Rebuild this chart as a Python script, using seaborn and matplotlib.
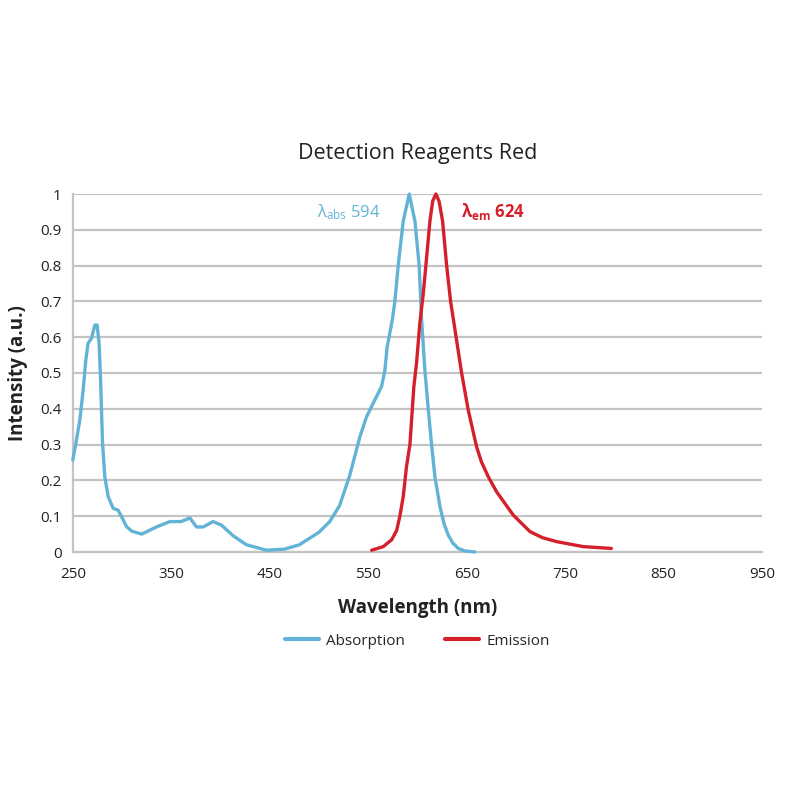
import pandas as pd
import seaborn as sns
import matplotlib.pyplot as plt

# absorption spectrum
abs_nm = [250, 253.7, 257.1, 260.5, 263.2, 265.5, 269, 272.4, 274.7, 276.7, 278.1,
          280.2, 282.5, 285.9, 291, 296, 299.5, 304.5, 310, 320, 335, 348.5, 360,
          369, 375.6, 382.4, 392.5, 401, 413, 426.5, 446.8, 465, 480, 500, 511,
          521, 531.4, 541.6, 548.4, 556.8, 563.6, 567, 569.3, 574.5, 577.1,
          580.5, 585.6, 591.7, 597.5, 601.8, 604.3, 607.6, 611, 614.4, 617.8,
          622.9, 627, 631.3, 636, 641.5, 648, 658.4]
abs_val = [0.257, 0.313, 0.368, 0.452, 0.536, 0.583, 0.597, 0.634, 0.634, 0.583,
           0.49, 0.304, 0.21, 0.155, 0.122, 0.117, 0.099, 0.071, 0.058, 0.05, 0.07,
           0.085, 0.085, 0.095, 0.07, 0.07, 0.085, 0.075, 0.045, 0.02, 0.005,
           0.008, 0.02, 0.055, 0.085, 0.13, 0.215, 0.322, 0.378, 0.425, 0.462,
           0.508, 0.573, 0.648, 0.70, 0.80, 0.924, 1.0, 0.924, 0.80, 0.648,
           0.508, 0.40, 0.30, 0.21, 0.127, 0.08, 0.047, 0.025, 0.01, 0.003, 0.0]

# emission spectrum
em_nm = [553.5, 565.3, 573.8, 578.9, 582.2, 585.6, 589, 592.4, 594.1, 596.4, 599.2,
         602.5, 605.9, 608.6, 612.7, 615.5, 618.8, 622, 625.6, 629.7, 633.7, 637.1,
         644.9, 651.6, 660.1, 665, 672, 680.5, 697.4, 714.3, 727, 741.4, 768.5, 797]
em_val = [0.005, 0.015, 0.034, 0.06, 0.10, 0.155, 0.24, 0.30, 0.369, 0.462, 0.53,
          0.64, 0.72, 0.80, 0.924, 0.98, 1.0, 0.98, 0.924, 0.80, 0.70, 0.64, 0.5,
          0.397, 0.294, 0.252, 0.21, 0.168, 0.103, 0.057, 0.04, 0.029, 0.015, 0.01]

x_ticks = [250, 350, 450, 550, 650, 750, 850, 950]
y_ticks = [0, 0.1, 0.2, 0.3, 0.4, 0.5, 0.6, 0.7, 0.8, 0.9, 1]
y_labels = ["0", "0.1", "0.2", "0.3", "0.4", "0.5", "0.6", "0.7", "0.8", "0.9", "1"]

blue = "#62b3d6"
red = "#d5202b"

sns.set_theme(style="white")
plt.rcParams["font.family"] = ["Open Sans", "DejaVu Sans"]
plt.rcParams["mathtext.fontset"] = "custom"
plt.rcParams["mathtext.rm"] = "Open Sans"
plt.rcParams["mathtext.bf"] = "Open Sans:bold"

df = pd.concat([
    pd.DataFrame({"nm": abs_nm, "val": abs_val, "series": "Absorption"}),
    pd.DataFrame({"nm": em_nm, "val": em_val, "series": "Emission"}),
])

fig = plt.figure(figsize=(8, 8), dpi=100)
ax = fig.add_axes([0.091, 0.31, 0.8615, 0.4475])

sns.lineplot(data=df, x="nm", y="val", hue="series", palette={"Absorption": blue, "Emission": red},
             linewidth=2.4, ax=ax, sort=False, clip_on=False, zorder=3)
for line in ax.lines:
    line.set_solid_joinstyle("round")

ax.set_xlim(250, 950)
ax.set_ylim(0, 1)
ax.set_xticks(x_ticks)
ax.set_yticks(y_ticks)
ax.set_yticklabels(y_labels)
ax.yaxis.grid(True, color="#c4c4c4", linewidth=1.6)
ax.xaxis.grid(False)
for side in ["top", "right"]:
    ax.spines[side].set_visible(False)
for side in ["left", "bottom"]:
    ax.spines[side].set_color("#c4c4c4")
    ax.spines[side].set_linewidth(1.6)
ax.tick_params(axis="both", length=5, width=1.2, color="#c4c4c4", labelsize=11,
               labelcolor="#222222", pad=3)
ax.tick_params(axis="x", pad=6)

ax.set_xlabel("Wavelength (nm)", fontsize=13.5, fontweight="bold", color="#222222", labelpad=11)
ax.set_ylabel("Intensity (a.u.)", fontsize=13.5, fontweight="bold", color="#222222", labelpad=9)
ax.set_title("Detection Reagents Red", fontsize=15.5, color="#222222", pad=25)

ax.text(562, 0.95, r"$\mathrm{λ_{abs}}$ 594", color=blue, fontsize=12, ha="right", va="center")
ax.text(644, 0.95, r"$\mathbf{λ_{em}}$ 624", color=red, fontsize=12, fontweight="bold",
        ha="left", va="center")

leg = ax.legend(loc="upper center", bbox_to_anchor=(0.5, -0.19), ncol=2, frameon=False,
                fontsize=11, handlelength=2.2, columnspacing=2.6, handletextpad=0.5)
for line in leg.get_lines():
    line.set_linewidth(3)

fig.savefig("out.png", dpi=100)
